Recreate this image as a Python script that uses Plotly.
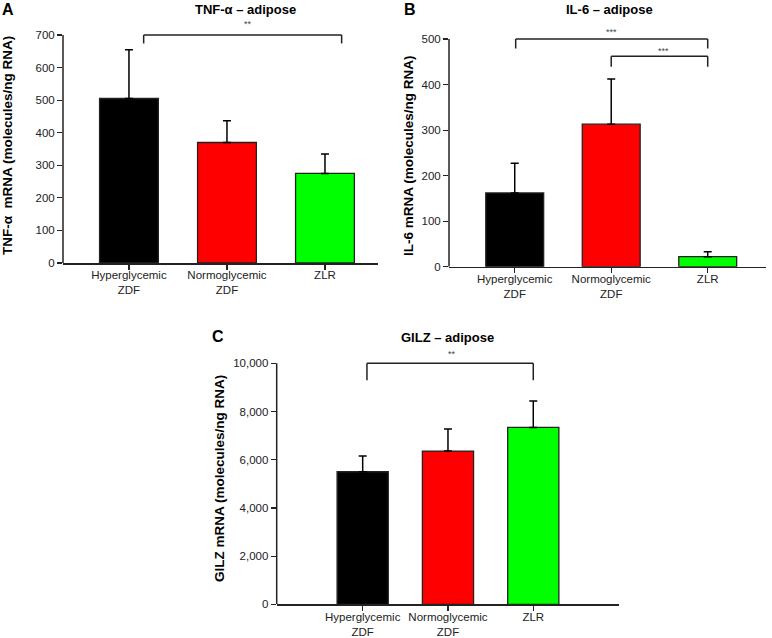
import plotly.graph_objects as go

W, H = 772, 638

categories = ["Hyperglycemic<br>ZDF", "Normoglycemic<br>ZDF", "ZLR"]
bar_colors = ["#000000", "#FF0000", "#00FF00"]

tnf_values = [505, 370, 275]
tnf_errors = [150, 67, 60]

il6_values = [162, 313, 22]
il6_errors = [65, 99, 11]

gilz_values = [5500, 6360, 7340]
gilz_errors = [650, 910, 1100]

tnf_ticks = [0, 100, 200, 300, 400, 500, 600, 700]
il6_ticks = [0, 100, 200, 300, 400, 500]
gilz_ticks = [0, 2000, 4000, 6000, 8000, 10000]

FONT = "Liberation Sans, Arial, sans-serif"
AX = "#222222"


def px(x):
    return x / W


def py(y):
    return 1 - y / H


fig = go.Figure()

panels = [
    dict(v=tnf_values, e=tnf_errors, ticks=tnf_ticks, xa="x", ya="y",
         xd=(63, 378), yd=(263, 30.1), xr=[-0.673, 2.541], yr=[0, 715], fmt=""),
    dict(v=il6_values, e=il6_errors, ticks=il6_ticks, xa="x2", ya="y2",
         xd=(449, 766), yd=(266.7, 32.2), xr=[-0.681, 2.604], yr=[0, 515], fmt=""),
    dict(v=gilz_values, e=gilz_errors, ticks=gilz_ticks, xa="x3", ya="y3",
         xd=(276.7, 619), yd=(604.3, 356.1), xr=[-1.008, 3.005], yr=[0, 10300], fmt=",d"),
]

layout_axes = {}
shapes = []
for i, p in enumerate(panels):
    fig.add_trace(go.Bar(
        x=categories, y=p["v"], xaxis=p["xa"], yaxis=p["ya"],
        width=0.6,
        marker=dict(color=bar_colors, line=dict(color=AX, width=1.3)),
        error_y=dict(type="data", array=p["e"], arrayminus=[0, 0, 0], symmetric=False,
                     color="#000000", thickness=1.5, width=4),
        showlegend=False, hoverinfo="skip",
    ))
    xname = "xaxis" if i == 0 else f"xaxis{i+1}"
    yname = "yaxis" if i == 0 else f"yaxis{i+1}"
    layout_axes[xname] = dict(
        domain=[px(p["xd"][0]), px(p["xd"][1])], range=p["xr"], anchor=p["ya"],
        showline=True, linecolor=AX, linewidth=1.5, ticks="outside", ticklen=5,
        tickwidth=1.2, tickcolor=AX, showgrid=False, zeroline=False, automargin=False,
        ticklabelstandoff=-4,
        tickfont=dict(family=FONT, size=11.5, color="#222"), fixedrange=True,
    )
    layout_axes[yname] = dict(
        domain=[py(p["yd"][0]), py(p["yd"][1])], range=p["yr"], anchor=p["xa"],
        showline=False, ticks="outside", ticklen=5, tickwidth=1.2, tickcolor=AX,
        tickvals=p["ticks"], tickformat=p["fmt"], showgrid=False, zeroline=False,
        automargin=False,
        tickfont=dict(family=FONT, size=11.5, color="#222"), fixedrange=True,
    )
    shapes.append(dict(type="line", xref=f"{p['xa']} domain", yref=p["ya"],
                       x0=0, x1=0, y0=0, y1=p["ticks"][-1],
                       line=dict(color=AX, width=1.5)))


def bracket(xa, ya, x0, x1, ytop, ybot0, ybot1):
    for (a, b, c, d) in [(x0, x0, ybot0, ytop), (x0, x1, ytop, ytop), (x1, x1, ytop, ybot1)]:
        shapes.append(dict(type="line", xref=xa, yref=ya, x0=a, x1=b, y0=c, y1=d,
                           line=dict(color="#222", width=1.5)))


bracket("x", "y", 0.15, 2.17, 700, 674, 674)
bracket("x2", "y2", 0.01, 2.0, 500, 479, 479)
bracket("x2", "y2", 1.0, 2.0, 462, 439, 439)
bracket("x3", "y3", 0.05, 2.0, 10000, 9300, 9300)

annotations = []


def txt(x, y, s, size, bold=False, angle=0, color="#000"):
    annotations.append(dict(
        x=px(x), y=py(y), xref="paper", yref="paper", text=f"<b>{s}</b>" if bold else s,
        showarrow=False, textangle=angle, xanchor="center", yanchor="middle",
        font=dict(family=FONT, size=size, color=color)))


txt(8, 10, "A", 16, bold=True)
txt(410, 10, "B", 16, bold=True)
txt(218, 336, "C", 16, bold=True)
txt(245, 10, "TNF-α – adipose", 13, bold=True)
txt(609, 10, "IL-6 – adipose", 13, bold=True)
txt(448, 337, "GILZ – adipose", 13, bold=True)
txt(8, 146, "TNF-α  mRNA (molecules/ng RNA)", 13.5, bold=True, angle=-90)
txt(409, 156, "IL-6 mRNA (molecules/ng RNA)", 13.5, bold=True, angle=-90)
txt(219, 479, "GILZ mRNA (molecules/ng RNA)", 13.5, bold=True, angle=-90)
txt(248, 24, "**", 9, color="#444")
txt(611, 32, "***", 9, color="#444")
txt(663, 51, "***", 9, color="#444")
txt(452, 354, "**", 9, color="#444")

fig.update_layout(
    width=W, height=H, margin=dict(l=0, r=0, t=0, b=0, autoexpand=False),
    paper_bgcolor="white", plot_bgcolor="white",
    shapes=shapes, annotations=annotations, bargap=0.4,
    **layout_axes,
)

fig.write_html("out.html", config={"displayModeBar": False, "staticPlot": True},
               post_script="document.body.style.margin='0';document.body.style.overflow='hidden';")
